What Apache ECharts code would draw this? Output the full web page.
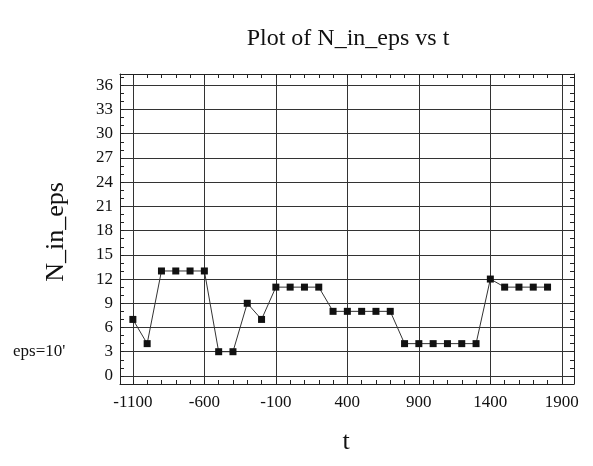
<!DOCTYPE html>
<html>
<head>
<meta charset="utf-8">
<script src="https://cdn.jsdelivr.net/npm/echarts@6/dist/echarts.min.js"></script>
<style>
  html, body { margin: 0; padding: 0; background: #fff; }
  #chart { width: 593px; height: 466px; }
</style>
</head>
<body>
<div id="chart"></div>
<script>
// Time values and counts of N_in_eps
var tValues = [-1100, -1000, -900, -800, -700, -600, -500, -400, -300, -200,
               -100, 0, 100, 200, 300, 400, 500, 600, 700, 800,
               900, 1000, 1100, 1200, 1300, 1400, 1500, 1600, 1700, 1800];
var nInEps = [7, 4, 13, 13, 13, 13, 3, 3, 9, 7,
              11, 11, 11, 11, 8, 8, 8, 8, 8, 4,
              4, 4, 4, 4, 4, 12, 11, 11, 11, 11];

// Tick positions
var xMajorTicks = [-1100, -600, -100, 400, 900, 1400, 1900];
var yMajorTicks = [0, 3, 6, 9, 12, 15, 18, 21, 24, 27, 30, 33, 36];
var xMinorTicks = [];
for (var v = -1100; v <= 1900; v += 100) xMinorTicks.push(v);
var yMinorTicks = [];
for (var w = 0; w <= 37; w += 1) yMinorTicks.push(w);

var serif = '"Liberation Serif", "DejaVu Serif", serif';
var X_MIN = -1190, X_MAX = 1985, Y_MIN = -1, Y_MAX = 37.4;

var chart = echarts.init(document.getElementById('chart'));

function lineStyle() { return { color: '#222', width: 1 }; }
function plain(val) { return String(val); }

var option = {
  backgroundColor: '#fff',
  animation: false,
  title: {
    text: 'Plot of N_in_eps vs t',
    left: 343, top: 22, textAlign: 'center',
    textStyle: { fontFamily: serif, fontSize: 24, fontWeight: 'normal', color: '#111' }
  },
  grid: { left: 120, right: 19, top: 74, bottom: 82 },
  xAxis: [
    {
      type: 'value', min: X_MIN, max: X_MAX, position: 'bottom',
      axisLine: { show: true, onZero: false, lineStyle: lineStyle() },
      axisTick: { show: false, customValues: xMajorTicks },
      axisLabel: { customValues: xMajorTicks, formatter: plain, margin: 10,
                   fontFamily: serif, fontSize: 17, color: '#111' },
      splitLine: { show: true, lineStyle: { color: '#333', width: 1 } }
    },
    {
      type: 'value', min: X_MIN, max: X_MAX, position: 'bottom',
      axisLine: { show: false, onZero: false },
      axisTick: { show: true, inside: true, length: 4, customValues: xMinorTicks, lineStyle: lineStyle() },
      axisLabel: { show: false },
      splitLine: { show: false }
    },
    {
      type: 'value', min: X_MIN, max: X_MAX, position: 'top',
      axisLine: { show: true, onZero: false, lineStyle: lineStyle() },
      axisTick: { show: true, inside: true, length: 4, customValues: xMinorTicks, lineStyle: lineStyle() },
      axisLabel: { show: false },
      splitLine: { show: false }
    }
  ],
  yAxis: [
    {
      type: 'value', min: Y_MIN, max: Y_MAX, position: 'left',
      axisLine: { show: true, onZero: false, lineStyle: lineStyle() },
      axisTick: { show: false, customValues: yMajorTicks },
      axisLabel: { customValues: yMajorTicks, formatter: plain, margin: 7,
                   fontFamily: serif, fontSize: 17, color: '#111' },
      splitLine: { show: true, lineStyle: { color: '#333', width: 1 } }
    },
    {
      type: 'value', min: Y_MIN, max: Y_MAX, position: 'left',
      axisLine: { show: false, onZero: false },
      axisTick: { show: true, inside: true, length: 4, customValues: yMinorTicks, lineStyle: lineStyle() },
      axisLabel: { show: false },
      splitLine: { show: false }
    },
    {
      type: 'value', min: Y_MIN, max: Y_MAX, position: 'right',
      axisLine: { show: true, onZero: false, lineStyle: lineStyle() },
      axisTick: { show: true, inside: true, length: 4, customValues: yMinorTicks, lineStyle: lineStyle() },
      axisLabel: { show: false },
      splitLine: { show: false }
    }
  ],
  graphic: [
    {
      type: 'text', x: 56, y: 232, rotation: Math.PI / 2,
      style: { text: 'N_in_eps', fontFamily: serif, fontSize: 26, fill: '#111',
               textAlign: 'center', textVerticalAlign: 'middle' }
    },
    {
      type: 'text', x: 346, y: 442,
      style: { text: 't', fontFamily: serif, fontSize: 26, fill: '#111',
               textAlign: 'center', textVerticalAlign: 'middle' }
    },
    {
      type: 'text', x: 13, y: 352,
      style: { text: "eps=10'", fontFamily: serif, fontSize: 17, fill: '#111',
               textAlign: 'left', textVerticalAlign: 'middle' }
    }
  ],
  series: [
    {
      type: 'line',
      xAxisIndex: 0, yAxisIndex: 0,
      data: tValues.map(function (t, i) { return [t, nInEps[i]]; }),
      symbol: 'rect', symbolSize: 7,
      itemStyle: { color: '#111' },
      lineStyle: { color: '#333', width: 1 }
    }
  ]
};

chart.setOption(option);
</script>
</body>
</html>
